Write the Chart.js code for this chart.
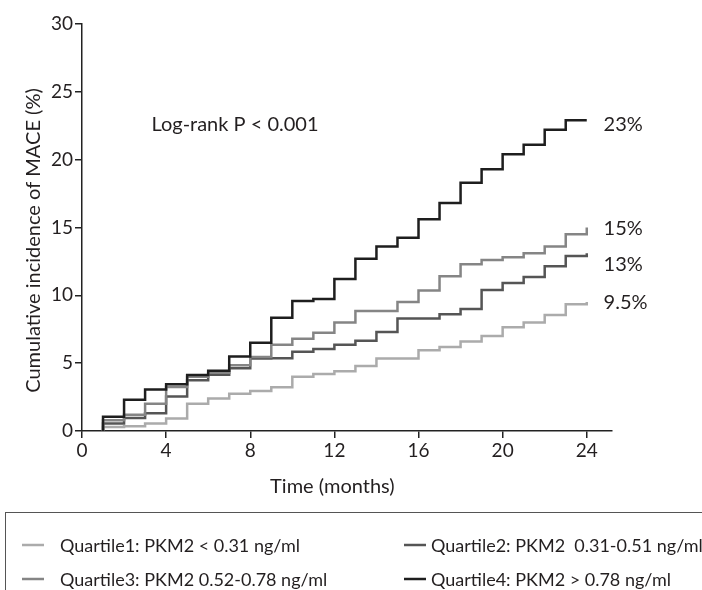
<!DOCTYPE html>
<html><head><meta charset="utf-8">
<script src="https://cdn.jsdelivr.net/npm/chart.js@4/dist/chart.umd.min.js"></script>
<style>html,body{margin:0;padding:0;background:#fff;overflow:hidden}</style>
</head><body>
<canvas id="c" width="702" height="590" style="width:702px;height:590px;display:block"></canvas>
<script>
// ---- data ----
const months = [1,2,3,4,5,6,7,8,9,10,11,12,13,14,15,16,17,18,19,20,21,22,23,24];
const q1Values = [0.3,0.35,0.56,0.93,2.0,2.4,2.75,2.95,3.22,4.0,4.2,4.4,4.8,5.35,5.35,5.95,6.2,6.6,7.0,7.65,8.0,8.55,9.35,9.5];
const q2Values = [0.55,0.95,1.3,2.55,3.75,4.15,4.62,5.35,5.36,5.85,6.05,6.35,6.65,7.3,8.3,8.3,8.6,9.0,10.4,10.9,11.35,12.15,12.9,13.1];
const q3Values = [0.8,1.2,2.0,3.25,4.0,4.3,4.85,5.45,6.35,6.8,7.25,8.0,8.85,8.85,9.5,10.35,11.4,12.3,12.6,12.8,13.1,13.6,14.5,15.0];
const q4Values = [1.05,2.3,3.05,3.45,4.13,4.45,5.5,6.5,8.35,9.58,9.73,11.2,12.7,13.6,14.25,15.6,16.8,18.3,19.3,20.4,21.1,22.2,22.9,22.9];
const seriesLabels = [
  'Quartile1: PKM2 < 0.31 ng/ml',
  'Quartile2: PKM2  0.31-0.51 ng/ml',
  'Quartile3: PKM2 0.52-0.78 ng/ml',
  'Quartile4: PKM2 > 0.78 ng/ml'
];
const endLabels = ['9.5%','13%','15%','23%'];
const xTickValues = [0,4,8,12,16,20,24];
const yTickValues = [0,5,10,15,20,25,30];
const pValueText = 'Log-rank P < 0.001';
const xTitle = 'Time (months)';
const yTitle = 'Cumulative incidence of MACE (%)';

// ---- styling ----
const FONT = 'Lato';
const TXT = '#231f20';
const colors = ['#ababab','#555555','#858585','#1e1e1e'];
const allValues = [q1Values,q2Values,q3Values,q4Values];

function toPoints(vals){
  return [{x:months[0], y:0}].concat(months.map((m,i)=>({x:m, y:vals[i]})));
}

const datasets = allValues.map((v,i)=>({
  label: seriesLabels[i],
  data: toPoints(v),
  borderColor: colors[i],
  borderWidth: 2.5,
  pointRadius: 0,
  fill: false,
  stepped: true,
  order: 4-i
}));

const annotationPlugin = {
  id: 'annot',
  afterDatasetsDraw(chart, args, opts){
    const ctx = chart.ctx, xs = chart.scales.x, ys = chart.scales.y, ca = chart.chartArea;
    ctx.save();
    ctx.fillStyle = TXT;
    ctx.font = '20px ' + FONT;
    ctx.textBaseline = 'middle';
    ctx.textAlign = 'left';
    ctx.fillText(pValueText, xs.getPixelForValue(opts.pAt[0]), ys.getPixelForValue(opts.pAt[1]));
    endLabels.forEach((t,i)=>{
      ctx.fillText(t, xs.getPixelForValue(opts.endX), ys.getPixelForValue(opts.endY[i]));
    });
    // axis titles
    ctx.textAlign = 'center';
    ctx.fillText(xTitle, xs.getPixelForValue(12) - 2, ca.bottom + 56);
    ctx.translate(34, (ca.top + ca.bottom) / 2 + 13);
    ctx.rotate(-Math.PI / 2);
    ctx.fillText(yTitle, 0, 0);
    ctx.restore();
  },
  afterDraw(chart, args, opts){
    // legend box
    const ctx = chart.ctx;
    ctx.save();
    ctx.strokeStyle = '#555';
    ctx.lineWidth = 1;
    ctx.strokeRect(5.5, 512.5, 720, 100);
    ctx.font = '18px ' + FONT;
    ctx.textBaseline = 'middle';
    ctx.fillStyle = TXT;
    const dashX = [22, 404], textX = [60, 431], rows = [545, 579];
    [0,1,2,3].forEach((di,k)=>{
      const c = k % 2, cy = rows[Math.floor(k/2)];
      const ds = chart.data.datasets[di];
      ctx.strokeStyle = ds.borderColor;
      ctx.lineWidth = 2.5;
      ctx.beginPath(); ctx.moveTo(dashX[c], cy); ctx.lineTo(dashX[c]+22, cy); ctx.stroke();
      ctx.fillText(ds.label, textX[c], cy + 1);
    });
    ctx.restore();
  }
};

new Chart(document.getElementById('c'), {
  type: 'line',
  data: { datasets },
  options: {
    responsive: false,
    animation: false,
    layout: { padding: { left: 0, right: 90, top: 24, bottom: 0 } },
    plugins: {
      legend: { display: false },
      tooltip: { enabled: false },
      annot: { pAt: [3.3, 22.6], endX: 24.8, endY: [9.5, 12.3, 14.9, 22.6] }
    },
    scales: {
      x: {
        type: 'linear', min: 0, max: 25.2,
        afterBuildTicks: s => { s.ticks = xTickValues.map(v=>({value:v})); },
        afterFit: s => { s.height = 159; },
        grid: { display: true, drawOnChartArea: false, drawTicks: true, tickLength: 7, color: '#222', lineWidth: 1.5 },
        border: { display: true, color: '#222', width: 1.5 },
        ticks: { color: TXT, font: { family: FONT, size: 19 }, padding: 1, maxRotation: 0 }
      },
      y: {
        type: 'linear', min: 0, max: 30,
        afterBuildTicks: s => { s.ticks = yTickValues.map(v=>({value:v})); },
        afterFit: s => { s.width = 82; },
        grid: { display: true, drawOnChartArea: false, drawTicks: true, tickLength: 7, color: '#222', lineWidth: 1.5 },
        border: { display: true, color: '#222', width: 1.5 },
        ticks: { color: TXT, font: { family: FONT, size: 19 }, padding: 2 }
      }
    }
  },
  plugins: [annotationPlugin]
});
</script>
</body></html>
